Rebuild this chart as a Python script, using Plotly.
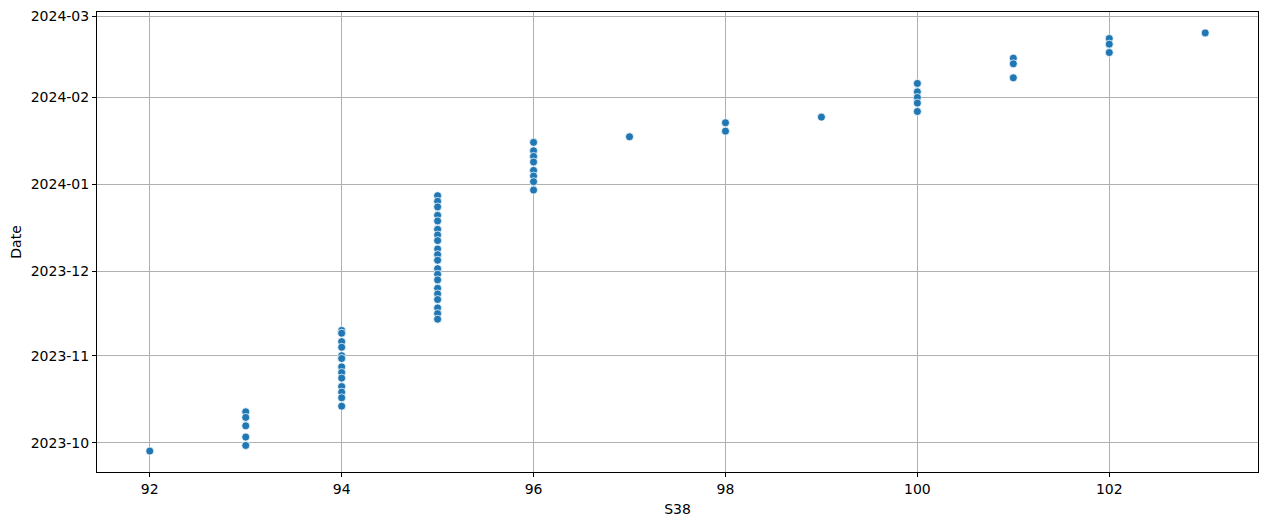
import pandas as pd
import plotly.graph_objects as go

s38 = ([92] + [93] * 5 + [94] * 13 + [95] * 20 + [96] * 8 + [97] + [98] * 2 + [99]
       + [100] * 5 + [101] * 3 + [102] * 3 + [103])

dates = [
    "2023-09-28",
    "2023-10-12", "2023-10-10", "2023-10-07", "2023-10-03", "2023-09-30",
    "2023-11-10", "2023-11-09", "2023-11-06", "2023-11-04", "2023-11-01", "2023-10-31",
    "2023-10-28", "2023-10-26", "2023-10-24", "2023-10-21", "2023-10-19", "2023-10-17",
    "2023-10-14",
    "2023-12-28", "2023-12-26", "2023-12-24", "2023-12-21", "2023-12-19", "2023-12-16",
    "2023-12-14", "2023-12-12", "2023-12-09", "2023-12-07", "2023-12-05", "2023-12-02",
    "2023-11-30", "2023-11-28", "2023-11-25", "2023-11-23", "2023-11-21", "2023-11-18",
    "2023-11-16", "2023-11-14",
    "2024-01-16", "2024-01-13", "2024-01-11", "2024-01-09", "2024-01-06", "2024-01-04",
    "2024-01-02", "2023-12-30",
    "2024-01-18",
    "2024-01-23", "2024-01-20",
    "2024-01-25",
    "2024-02-06", "2024-02-03", "2024-02-01", "2024-01-30", "2024-01-27",
    "2024-02-15", "2024-02-13", "2024-02-08",
    "2024-02-22", "2024-02-20", "2024-02-17",
    "2024-02-24",
]

x_label = "S38"
y_label = "Date"

dt = pd.to_datetime(dates)
span = dt.max() - dt.min()
y_lo = dt.min() - span * 0.05
y_hi = dt.max() + span * 0.05
xspan = max(s38) - min(s38)
x_lo = min(s38) - xspan * 0.05
x_hi = max(s38) + xspan * 0.05

fig = go.Figure(go.Scatter(
    x=s38, y=dates, mode="markers",
    marker=dict(color="#1f77b4", size=8, line=dict(color="white", width=0.75)),
    showlegend=False,
))

font = dict(family="DejaVu Sans", size=14, color="black")
axis_common = dict(
    showline=True, mirror=True, linecolor="black", linewidth=1,
    ticks="outside", ticklen=4, tickwidth=1, tickcolor="black",
    showgrid=True, gridcolor="#b0b0b0", gridwidth=1, zeroline=False,
    tickfont=font, automargin=False, ticklabeloverflow="allow",
)

fig.update_layout(
    width=1269, height=526,
    margin=dict(l=89, r=19, t=4, b=62),
    paper_bgcolor="white", plot_bgcolor="white",
    font=font,
    xaxis=dict(range=[x_lo, x_hi], dtick=2, tick0=92,
               title=dict(text=x_label, font=font, standoff=8), **axis_common),
    yaxis=dict(type="date", range=[y_lo.strftime("%Y-%m-%d %H:%M"), y_hi.strftime("%Y-%m-%d %H:%M")],
               dtick="M1", tickformat="%Y-%m",
               title=dict(text=y_label, font=font, standoff=6), **axis_common),
)

fig.write_html("out.html")
